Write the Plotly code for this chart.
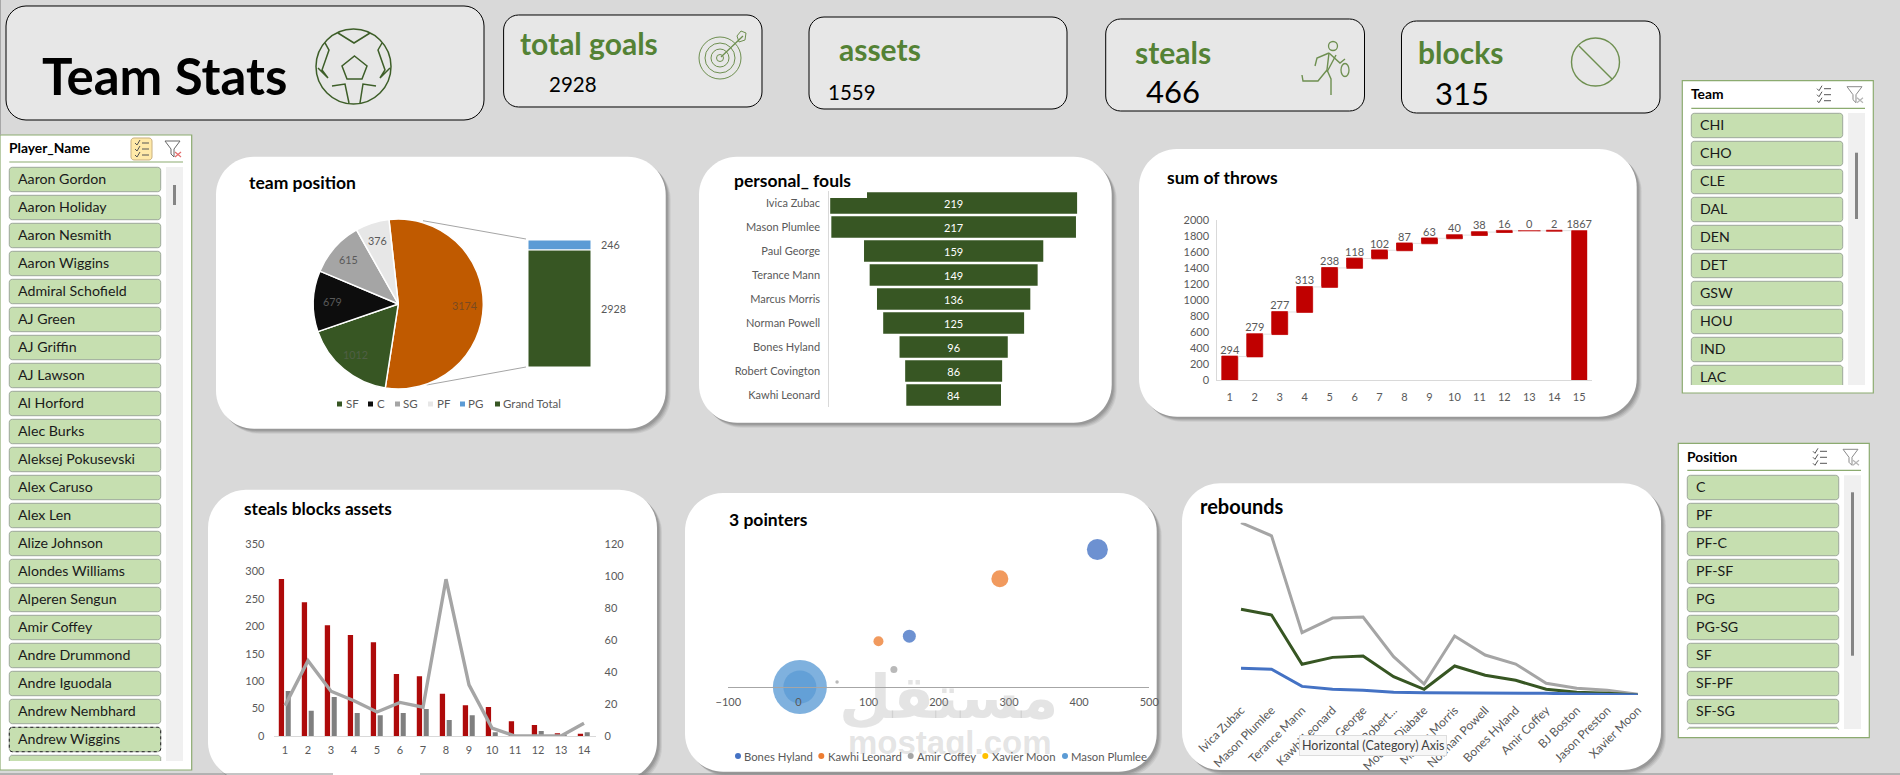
import math
import plotly.graph_objects as go

W, H = 1900, 775
FONT = "Lato"
GREY_TXT = "#595959"
DK_GREEN = "#375623"
KPI_GREEN = "#548235"
RED = "#C00000"

# ---------- data ----------
pie_labels = ["Other", "SF", "C", "SG", "PF"]
pie_values = [3174, 1012, 679, 615, 376]
pie_colors = ["#C05A00", DK_GREEN, "#0D0D0D", "#A5A5A5", "#E7E7E7"]
pie_text_colors = ["#7A4A20", "#4F5F45", "#595959", "#595959", "#595959"]
stack_labels = ["Grand Total", "PG"]
stack_values = [2928, 246]
stack_colors = [DK_GREEN, "#5B9BD5"]
pos_legend = ["SF", "C", "SG", "PF", "PG", "Grand Total"]
pos_legend_colors = [DK_GREEN, "#0D0D0D", "#A5A5A5", "#E7E7E7", "#5B9BD5", DK_GREEN]

foul_players = ["Ivica Zubac", "Mason Plumlee", "Paul George", "Terance Mann", "Marcus Morris",
                "Norman Powell", "Bones Hyland", "Robert Covington", "Kawhi Leonard"]
foul_values = [219, 217, 159, 149, 136, 125, 96, 86, 84]

throw_cats = [str(i) for i in range(1, 16)]
throw_values = [294, 279, 277, 313, 238, 118, 102, 87, 63, 40, 38, 16, 0, 2, 1867]

sba_cats = [str(i) for i in range(1, 15)]
sba_red = [286, 244, 202, 184, 171, 113, 109, 77, 56, 53, 27, 20, 5, 4]
sba_grey = [82, 46, 71, 42, 38, 42, 49, 29, 38, 7, 0, 9, 1, 7]
sba_line = [19, 47, 28, 22, 15, 21, 18, 98, 32, 5, 0, 0, 0, 8]

bubble_names = ["Bones Hyland", "Kawhi Leonard", "Amir Coffey", "Xavier Moon", "Mason Plumlee"]
bubble_colors = ["#4472C4", "#ED7D31", "#A5A5A5", "#FFC000", "#5B9BD5"]
bubble_x = [[426, 158], [287, 114], [136, 55], [], [2, 2]]
bubble_y = [[165, 61], [130, 55], [21, 6], [], [0, 0]]
bubble_size = [[21, 13], [17, 10], [7, 3.5], [], [54, 33]]

reb_players = ["Ivica Zubac", "Mason Plumlee", "Terance Mann", "Kawhi Leonard", "Paul George", "Robert...",
               "Moussa Diabate", "Marcus Morris", "Norman Powell", "Bones Hyland", "Amir Coffey",
               "BJ Boston", "Jason Preston", "Xavier Moon"]
reb_blue = [192, 185, 62, 41, 34, 19, 17, 17, 17, 12, 12, 7, 5, 0]
reb_green = [617, 576, 221, 271, 281, 132, 41, 209, 142, 106, 41, 19, 12, 0]
reb_grey = [1241, 1147, 449, 554, 562, 276, 79, 425, 288, 223, 84, 48, 34, 5]

players = ["Aaron Gordon", "Aaron Holiday", "Aaron Nesmith", "Aaron Wiggins", "Admiral Schofield", "AJ Green",
           "AJ Griffin", "AJ Lawson", "Al Horford", "Alec Burks", "Aleksej Pokusevski", "Alex Caruso", "Alex Len",
           "Alize Johnson", "Alondes Williams", "Alperen Sengun", "Amir Coffey", "Andre Drummond", "Andre Iguodala",
           "Andrew Nembhard", "Andrew Wiggins"]
teams = ["CHI", "CHO", "CLE", "DAL", "DEN", "DET", "GSW", "HOU", "IND", "LAC"]
positions = ["C", "PF", "PF-C", "PF-SF", "PG", "PG-SG", "SF", "SF-PF", "SF-SG"]

# ---------- pixel helpers ----------
def X(x): return x / W
def Y(y): return 1 - y / H
def P(x, y): return f"{X(x):.5f},{Y(y):.5f}"
def dom_x(a, b): return [X(a), X(b)]
def dom_y(top, bottom): return [Y(bottom), Y(top)]

shapes, annotations = [], []

def rrect(x0, y0, x1, y1, r, fill, line=None, lw=1, layer="below", dash=None):
    k = 0.45 * r
    d = (f"M{P(x0+r,y0)} L{P(x1-r,y0)} C{P(x1-k,y0)} {P(x1,y0+k)} {P(x1,y0+r)} "
         f"L{P(x1,y1-r)} C{P(x1,y1-k)} {P(x1-k,y1)} {P(x1-r,y1)} "
         f"L{P(x0+r,y1)} C{P(x0+k,y1)} {P(x0,y1-k)} {P(x0,y1-r)} "
         f"L{P(x0,y0+r)} C{P(x0,y0+k)} {P(x0+k,y0)} {P(x0+r,y0)} Z")
    ln = dict(color=line or "rgba(0,0,0,0)", width=lw if line else 0)
    if dash:
        ln["dash"] = dash
    shapes.append(dict(type="path", xref="paper", yref="paper", path=d, fillcolor=fill, layer=layer, line=ln))

def rect(x0, y0, x1, y1, fill, line=None, lw=1, layer="below"):
    shapes.append(dict(type="rect", xref="paper", yref="paper", x0=X(x0), x1=X(x1), y0=Y(y0), y1=Y(y1),
                       fillcolor=fill, layer=layer, line=dict(color=line or "rgba(0,0,0,0)", width=lw if line else 0)))

def circle(cx, cy, rx, ry=None, fill="rgba(0,0,0,0)", line=None, lw=1.5, layer="below"):
    ry = ry or rx
    shapes.append(dict(type="circle", xref="paper", yref="paper", x0=X(cx-rx), x1=X(cx+rx), y0=Y(cy-ry), y1=Y(cy+ry),
                       fillcolor=fill, layer=layer, line=dict(color=line or "rgba(0,0,0,0)", width=lw if line else 0)))

def poly(pts, color, lw=1.5, closed=False, fill="rgba(0,0,0,0)", layer="below"):
    d = "M" + " L".join(P(a, b) for a, b in pts) + (" Z" if closed else "")
    shapes.append(dict(type="path", xref="paper", yref="paper", path=d, fillcolor=fill, layer=layer,
                       line=dict(color=color, width=lw)))

def text(x, y, s, size, color="#000000", bold=False, anchor="left", font=FONT, **kw):
    if anchor == "left":
        x -= 1
    y -= 1
    annotations.append(dict(xref="paper", yref="paper", x=X(x), y=Y(y), text=f"<b>{s}</b>" if bold else s,
                            showarrow=False, xanchor=anchor, yanchor="middle", borderpad=0,
                            font=dict(family=font, size=size, color=color), **kw))

def card(x0, y0, x1, y1, title, tx, ty, tsize=17.5):
    for off, a in ((5, .10), (4, .14), (3, .18), (2, .22)):
        rrect(x0+off, y0+off, x1+off, y1+off, 38, f"rgba(90,90,90,{a})")
    rrect(x0, y0, x1, y1, 38, "#FFFFFF")
    text(tx, ty, title, tsize, bold=True)

def kpi(x0, y0, x1, y1, r=15):
    rrect(x0, y0, x1, y1, r, "#E7E7E7", "#000000", 1)

def slicer(x0, y0, x1, y1, title, items, bx0, bx1, by0, tx, ty, sep, track, thumb, clip_y, hl=False):
    rect(x0, y0, x1, y1, "#FFFFFF", "#8CAB70", 1.2)
    text(tx, ty, title, 13.8, bold=True)
    poly([(bx0, sep), (track[1], sep)], "#8CAB70", 1.2)
    rect(track[0], track[2], track[1], track[3], "#F0F0F0")
    rect(thumb[0], thumb[2], thumb[1], thumb[3], "#858585")
    for i, name in enumerate(items):
        t = by0 + 28 * i
        rrect(bx0, t, bx1, t + 24.4, 3, "#C6DFB0", "#9DA89A", 1)
        text(bx0 + 9, t + 12, name, 14.2, "#1A1A1A")
    if hl:
        t = by0 + 28 * (len(items) - 1)
        rrect(bx0, t, bx1, t + 24.4, 3, "rgba(0,0,0,0)", "#222222", 1, dash="dot")
    t = by0 + 28 * len(items)
    if t < clip_y:
        poly([(bx0, clip_y), (bx0, t + 2), (bx0 + 2, t), (bx1 - 2, t), (bx1, t + 2), (bx1, clip_y)],
             "#9DA89A", 1, fill="#C6DFB0")
    # header icons
    ix = track[1] - 49
    if hl:
        rrect(ix - 3, ty - 11, ix + 18, ty + 11, 3, "#FFE9A8", "#C8B080", 1)
    for k in range(3):
        yy = ty - 6 + k * 6
        poly([(ix + 1, yy), (ix + 3, yy + 2), (ix + 6, yy - 3)], "#555555", 1)
        poly([(ix + 8, yy), (ix + 15, yy)], "#555555", 1)
    fx = track[1] - 18
    poly([(fx, ty - 8), (fx + 15, ty - 8), (fx + 9, ty), (fx + 9, ty + 8), (fx + 6, ty + 5), (fx + 6, ty)],
         "#8A8A8A" if not hl else "#666666", 1, closed=True)
    xc = "#E46C6C" if hl else "#B5B5B5"
    poly([(fx + 10, ty + 3), (fx + 16, ty + 8)], xc, 1.2)
    poly([(fx + 16, ty + 3), (fx + 10, ty + 8)], xc, 1.2)

# ---------- KPI row ----------
kpi(6, 6, 484, 120, 20)
text(42, 77, "Team Stats", 51, bold=True)
kpi(503.6, 15, 762, 107)
text(520, 44, "total goals", 30, KPI_GREEN, bold=True)
text(548.5, 85, "2928", 20.5)
kpi(809, 17, 1067, 109)
text(839, 50, "assets", 30, KPI_GREEN, bold=True)
text(828, 93, "1559", 20.5)
kpi(1105.7, 19, 1364.5, 111)
text(1135, 53, "steals", 30, KPI_GREEN, bold=True)
text(1146, 92, "466", 31)
kpi(1401.5, 21, 1660, 113)
text(1418, 53, "blocks", 30, KPI_GREEN, bold=True)
text(1435, 94, "315", 31)

# football icon
BALL = "#3D5E28"
circle(353.5, 66.5, 37.5, line=BALL)
poly([(354.5, 56), (367, 66), (362, 79), (347, 79), (342, 66)], BALL, closed=True)
poly([(338, 33), (354, 43), (370, 33)], BALL)
poly([(325, 43), (329, 50), (322, 70), (328, 78), (318, 68)], BALL)
poly([(382, 43), (378, 50), (385, 70), (380, 78), (390, 68)], BALL)
poly([(332, 86), (345, 84), (349, 103)], BALL)
poly([(376, 86), (363, 84), (360, 103)], BALL)
# target icon
TG = "#6E8F50"
for r_ in (21, 15, 9, 3.5):
    circle(720, 58, r_, line=TG, lw=1)
poly([(721, 57), (743, 36)], TG, 1.3)
poly([(737, 36), (739, 42), (745, 40), (746, 33), (741, 31), (737, 36)], TG, 1)
# steal icon
circle(1333, 46, 4.5, line=TG, lw=1.3)
for seg in ([(1329, 53), (1327, 70), (1331, 79), (1331, 95)],
            [(1327, 70), (1318, 81), (1303, 81), (1302, 75)],
            [(1329, 53), (1317, 58), (1315, 66)],
            [(1329, 53), (1340, 63), (1345, 59)],
            [(1336, 55), (1327, 72)]):
    poly(seg, TG, 1.4)
circle(1345, 70, 4, 6.5, line=TG, lw=1.3)
# block icon
circle(1595.5, 62, 24, line=TG, lw=1.4)
poly([(1579, 46), (1612, 79)], TG, 1.4)

# ---------- slicers ----------
slicer(0, 135, 191.7, 770, "Player_Name", players, 9.3, 160.7, 167.3, 9, 149, 162,
       (166, 183, 167, 761), (173, 176, 185, 205), 761, hl=True)
slicer(1682.3, 80.7, 1873.3, 393, "Team", teams[:9], 1691.3, 1842.7, 113.3, 1691, 94.7, 108.3,
       (1848, 1865, 113, 385), (1855, 1858, 152.7, 219), 385)
text(1700.3, 377.3, teams[9], 14.2, "#1A1A1A")
slicer(1678.3, 443.3, 1869.3, 737.7, "Position", positions, 1687.3, 1838.7, 475.3, 1687.3, 457.3, 470.3,
       (1844, 1861, 475.3, 729), (1851, 1854, 492.3, 655.7), 729)

# ---------- cards ----------
card(216, 156.7, 665.7, 428.7, "team position", 249, 184)
card(699, 156.7, 1111.7, 422.7, "personal_ fouls", 734, 181.7)
card(1139, 149, 1636.7, 416.7, "sum of throws", 1166.7, 178)
card(208, 489.7, 657, 780, "steals blocks assets", 243.7, 509, 17.2)
card(685, 493, 1156.7, 771.7, "3 pointers", 729, 520)
card(1182, 483.3, 1661, 770, "rebounds", 1200, 506.7, 20)

# page edges
poly([(0.5, 0), (0.5, 135)], "#A6A6A6", 1)
poly([(0, 774), (333, 774)], "#8A8A8A", 1)
poly([(420, 774), (1900, 774)], "#8A8A8A", 1)

fig = go.Figure()
tick = dict(family=FONT, size=11, color=GREY_TXT)
hidden = dict(visible=False, fixedrange=True, automargin=False)
axes = {}

# ---------- team position: pie + stack ----------
PIE_CX, PIE_CY, PIE_R = 398.3, 304, 85
ROT = -6.3
fig.add_trace(go.Pie(labels=pie_labels, values=pie_values, sort=False, direction="clockwise", rotation=ROT,
                     marker=dict(colors=pie_colors, line=dict(color="#FFFFFF", width=1.5)), textinfo="none",
                     showlegend=False, domain=dict(x=dom_x(PIE_CX-PIE_R, PIE_CX+PIE_R), y=dom_y(PIE_CY-PIE_R, PIE_CY+PIE_R))))
tot, acc = sum(pie_values), 0
for v, c in zip(pie_values, pie_text_colors):
    a = math.radians(ROT + (acc + v / 2) / tot * 360)
    text(PIE_CX + 0.78 * PIE_R * math.sin(a), PIE_CY - 0.78 * PIE_R * math.cos(a) + 1, str(v), 10.8, c, anchor="center")
    acc += v
poly([(423, 220.7), (526, 239)], "#A5A5A5", 1)
poly([(426.7, 385), (526, 367)], "#A5A5A5", 1)
base = 0
for lab, v, c in zip(stack_labels, stack_values, stack_colors):
    fig.add_trace(go.Bar(x=[0], y=[v], base=[base], width=1, marker=dict(color=c, line=dict(color="#FFFFFF", width=1)),
                         name=lab, showlegend=False, xaxis="x", yaxis="y"))
    annotations.append(dict(xref="x", yref="y", x=0, y=base + v / 2, text=str(v), showarrow=False, xanchor="left",
                            xshift=39, font=dict(family=FONT, size=10.8, color=GREY_TXT)))
    base += v
axes["xaxis"] = dict(domain=dom_x(528, 591), range=[-0.5, 0.5], **hidden)
axes["yaxis"] = dict(domain=dom_y(240, 367), range=[0, 3174], **hidden)
for name, c, sx, tx in zip(pos_legend, pos_legend_colors, [337, 368, 395, 428, 460, 495],
                           [345.7, 376.7, 403, 436.7, 468, 502.7]):
    rect(sx, 401.5, sx + 5, 406.5, c)
    text(tx, 404, name, 11.5, GREY_TXT)

# ---------- personal fouls funnel ----------
fig.add_trace(go.Funnel(y=foul_players, x=foul_values, orientation="h", marker=dict(color=DK_GREEN),
                        connector=dict(visible=False), textinfo="value", textposition="inside",
                        insidetextanchor="middle", textfont=dict(family=FONT, size=11, color="#FFFFFF"),
                        constraintext="none", showlegend=False, xaxis="x2", yaxis="y2"))
axes["xaxis2"] = dict(domain=dom_x(829.3, 1078), range=[-110.3, 110.3], **hidden)
axes["yaxis2"] = dict(domain=dom_y(191, 407), range=[8.5, -0.5], anchor="x2", type="category", categoryorder="array",
                      categoryarray=foul_players, showgrid=False, showline=True, linecolor="#D9D9D9", linewidth=1,
                      ticks="", tickfont=tick, ticklabelstandoff=6, fixedrange=True, zeroline=False, automargin=False)
rect(830, 190, 867, 198, "#FFFFFF", layer="above")

# ---------- waterfall ----------
throw_running = []
_s = 0
for v in throw_values[:-1]:
    _s += v
    throw_running.append(_s)
throw_running.append(throw_values[-1])
fig.add_trace(go.Waterfall(x=throw_cats, y=throw_values, measure=["relative"] * 14 + ["total"], textinfo="none",
                           increasing=dict(marker=dict(color=RED, line=dict(color=RED, width=0.8))),
                           decreasing=dict(marker=dict(color=RED)),
                           totals=dict(marker=dict(color=RED)),
                           connector=dict(line=dict(color="#D9D9D9", width=0.8)),
                           width=0.64, showlegend=False, xaxis="x3", yaxis="y3"))
fig.add_trace(go.Scatter(x=throw_cats, y=throw_running, mode="text", text=[str(v) for v in throw_values],
                         textposition="top center", cliponaxis=False, showlegend=False,
                         textfont=dict(family=FONT, size=11, color=GREY_TXT), xaxis="x3", yaxis="y3"))
zero_idx = [i for i, v in enumerate(throw_values) if v == 0]
fig.add_trace(go.Scatter(x=[throw_cats[i] for i in zero_idx], y=[throw_running[i] for i in zero_idx], mode="markers",
                         marker=dict(symbol="line-ew", size=16, line=dict(color=RED, width=1)), showlegend=False,
                         xaxis="x3", yaxis="y3"))
axes["xaxis3"] = dict(domain=dom_x(1217.3, 1591.7), anchor="y3", type="category", range=[-0.5, 14.5], tickfont=tick,
                      showline=True, linecolor="#D9D9D9", showgrid=False, ticks="", fixedrange=True, ticklabelstandoff=7,
                      automargin=False)
axes["yaxis3"] = dict(domain=dom_y(220, 380), anchor="x3", range=[0, 2000], dtick=200, tickfont=tick, showline=True,
                      linecolor="#D9D9D9", showgrid=False, ticks="", zeroline=False, fixedrange=True, ticklabelstandoff=5,
                      automargin=False)

# ---------- steals blocks assets ----------
fig.add_trace(go.Bar(x=sba_cats, y=sba_red, width=0.23, offset=-0.27, marker=dict(color="#AE0A0A"), name="steals",
                     showlegend=False, xaxis="x4", yaxis="y4"))
fig.add_trace(go.Bar(x=sba_cats, y=sba_grey, width=0.22, offset=0.03, marker=dict(color="#7F7F7F"), name="blocks",
                     showlegend=False, xaxis="x4", yaxis="y4"))
fig.add_trace(go.Scatter(x=sba_cats, y=sba_line, mode="lines", line=dict(color="#A5A5A5", width=3.4), name="assets",
                         showlegend=False, xaxis="x4", yaxis="y5", cliponaxis=False))
axes["xaxis4"] = dict(domain=dom_x(273.5, 595.5), anchor="y4", type="category", range=[-0.5, 13.5], tickfont=tick,
                      showline=True, linecolor="#D9D9D9", showgrid=False, ticks="", fixedrange=True, ticklabelstandoff=4,
                      automargin=False)
axes["yaxis4"] = dict(domain=dom_y(544, 736), anchor="x4", range=[0, 350], dtick=50, tickfont=tick, showgrid=False,
                      showline=False, ticks="", zeroline=False, fixedrange=True, ticklabelstandoff=8, automargin=False)
axes["yaxis5"] = dict(domain=dom_y(544, 736), anchor="x4", overlaying="y4", side="right", range=[0, 120], dtick=20,
                      tickfont=tick, showgrid=False, showline=False, ticks="", zeroline=False, fixedrange=True,
                      ticklabelstandoff=8, automargin=False)

# ---------- 3 pointers bubble ----------
for nm, c, bx, by, bs in zip(bubble_names, bubble_colors, bubble_x, bubble_y, bubble_size):
    fig.add_trace(go.Scatter(x=bx, y=by, mode="markers", name=nm, cliponaxis=False, showlegend=False,
                             marker=dict(size=bs, sizemode="diameter", color=c, opacity=0.78, line=dict(width=0)),
                             xaxis="x6", yaxis="y6"))
axes["xaxis6"] = dict(domain=dom_x(728.3, 1149.3), anchor="y6", range=[-100, 500], dtick=100, tickfont=tick,
                      showline=True, linecolor="#A6A6A6", showgrid=False, ticks="", zeroline=False, fixedrange=True,
                      ticklabelstandoff=5, automargin=False)
axes["yaxis6"] = dict(domain=dom_y(530, 687), anchor="x6", range=[0, 188.4], **hidden)
for nm, c, mx, tx in zip(bubble_names, bubble_colors, [738, 821.3, 910.7, 985.3, 1065],
                         [744.3, 827.7, 917, 991.7, 1071.3]):
    circle(mx, 756, 3, fill=c, layer="above")
    text(tx, 757, nm, 11.3, GREY_TXT)
text(948, 698, "مستقل", 60, "rgba(165,165,165,0.3)", bold=True, anchor="center", font="DejaVu Sans")
text(949.5, 743, "mostaql.com", 33, "rgba(165,165,165,0.3)", bold=True, anchor="center", font="Liberation Sans")

# ---------- rebounds ----------
tick_reb = dict(family=FONT, size=12, color=GREY_TXT)
for nm, ys, c in (("total", reb_grey, "#A5A5A5"), ("rebounds", reb_green, DK_GREEN), ("offensive", reb_blue, "#4472C4")):
    fig.add_trace(go.Scatter(x=reb_players, y=ys, mode="lines", name=nm, line=dict(color=c, width=3), showlegend=False,
                             cliponaxis=False, xaxis="x7", yaxis="y7"))
axes["xaxis7"] = dict(domain=dom_x(1225.75, 1653), anchor="y7", type="category", range=[-0.5, 13.5], tickangle=-45,
                      tickfont=tick_reb, showline=False, showgrid=False, ticks="", zeroline=False, fixedrange=True,
                      ticklabelstandoff=5, automargin=False)
axes["yaxis7"] = dict(domain=dom_y(522.7, 695), anchor="x7", range=[0, 1241], **hidden)
annotations.append(dict(xref="paper", yref="paper", x=X(1373), y=Y(745), text="Horizontal (Category) Axis", showarrow=False,
                        xanchor="center", yanchor="middle", bgcolor="#F7F7F7", bordercolor="#DDDDDD", borderwidth=1,
                        borderpad=2, font=dict(family=FONT, size=12.5, color="#404040")))

fig.update_layout(template="none", width=W, height=H, autosize=False, margin=dict(l=0, r=0, t=0, b=0, pad=0),
                  paper_bgcolor="#D9D9D9", plot_bgcolor="rgba(0,0,0,0)", barmode="overlay", funnelgap=0.1, shapes=shapes,
                  annotations=annotations, font=dict(family=FONT), hovermode=False, **axes)
fig.write_html("out.html", config={"displayModeBar": False},
               post_script="document.body.style.margin='0';document.documentElement.style.overflow='hidden';")
